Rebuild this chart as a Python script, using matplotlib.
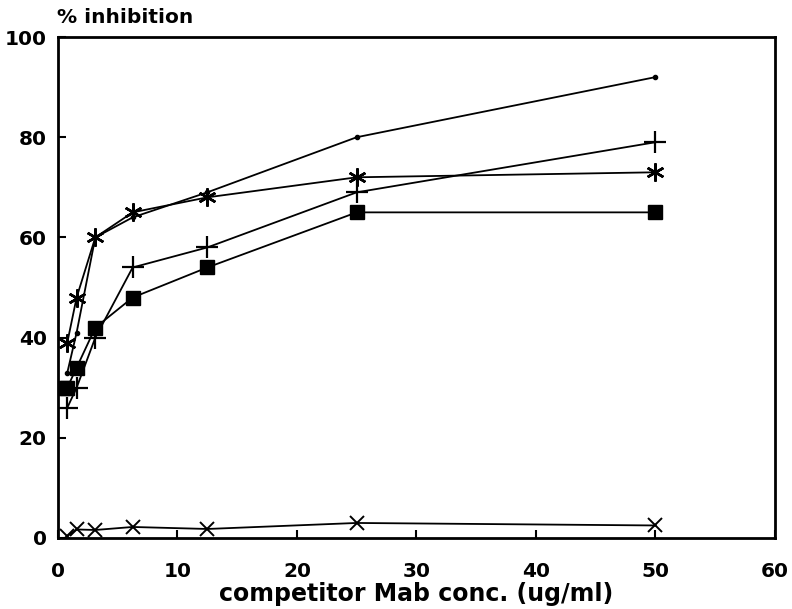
import numpy as np
import matplotlib.pyplot as plt

# competitor concentrations (two-fold dilutions, ug/ml)
conc = [0.39, 0.78, 1.56, 3.125, 6.25, 12.5, 25, 50]

square_x = conc
square_y = [30, 30, 34, 42, 48, 54, 65, 65]

plus_x = conc[1:]
plus_y = [26, 30, 40, 54, 58, 69, 79]

star_x = conc[1:]
star_y = [39, 48, 60, 65, 68, 72, 73]

dot_x = conc[1:]
dot_y = [33, 41, 60, 64, 69, 80, 92]

cross_x = conc[1:]
cross_y = [0.4, 1.7, 1.6, 2.2, 1.8, 3.0, 2.5]

xticks = [0, 10, 20, 30, 40, 50, 60]
yticks = [0, 20, 40, 60, 80, 100]

fig = plt.figure(figsize=(7.92, 6.09), dpi=100)
ax = fig.add_axes([0.0732, 0.1166, 0.9053, 0.8226])

lw = 1.3
ax.plot(dot_x, dot_y, color='black', lw=lw, marker='o', ms=3)
ax.plot(star_x, star_y, color='black', lw=lw, marker=(6, 2, 0), ms=13, mew=1.8)
ax.plot(plus_x, plus_y, color='black', lw=lw, marker='+', ms=16, mew=1.6)
ax.plot(square_x, square_y, color='black', lw=lw, marker='s', ms=10)
ax.plot(cross_x, cross_y, color='black', lw=lw, marker='x', ms=10, mew=1.4)

ax.set_xlim(0, 60)
ax.set_ylim(0, 100)
ax.set_xticks(xticks)
ax.set_yticks(yticks)
ax.tick_params(direction='in', length=6, width=1.5, labelsize=14.5)
ax.tick_params(axis='x', pad=17)
ax.tick_params(axis='y', pad=8)
for lab in ax.get_xticklabels() + ax.get_yticklabels():
    lab.set_fontweight('bold')
for s in ax.spines.values():
    s.set_linewidth(2)

ax.set_xlabel('competitor Mab conc. (ug/ml)', fontsize=17, fontweight='bold', labelpad=1)
fig.text(0.072, 0.972, '% inhibition', fontsize=14.5, fontweight='bold', va='center')

fig.savefig('out.png', dpi=100)
